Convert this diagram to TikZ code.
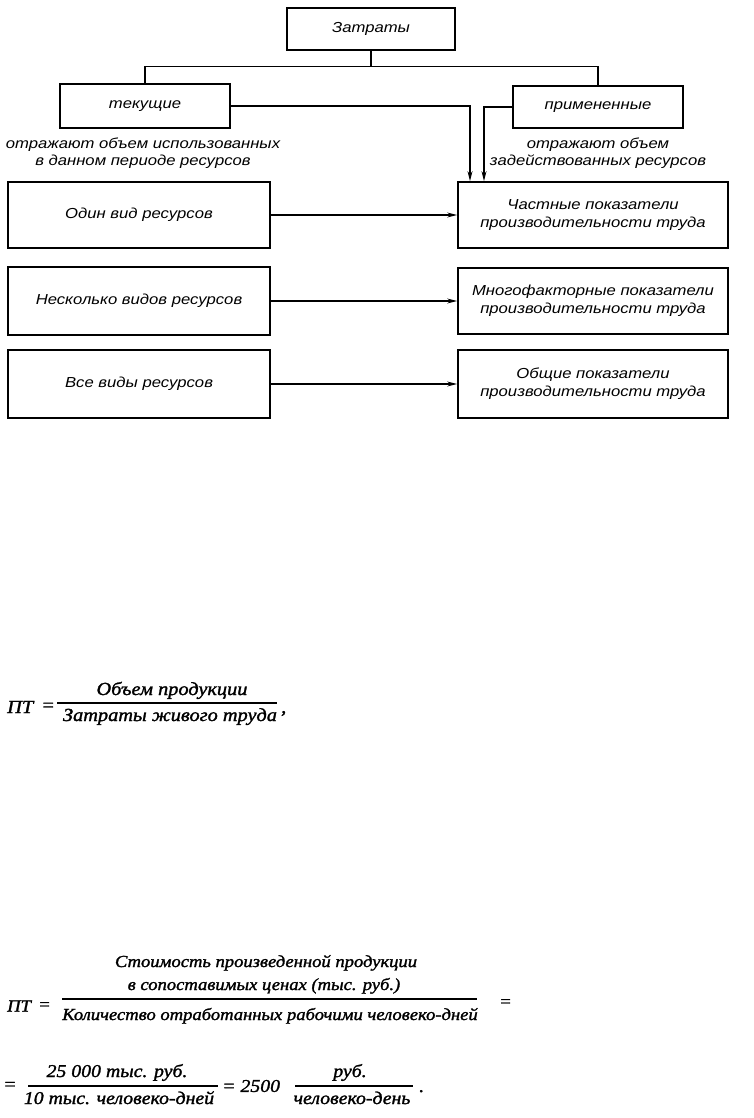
\documentclass[tikz,border=0pt]{standalone}
\usepackage{fontspec}
\setmainfont{Liberation Serif}
\newfontfamily\sansf[FakeStretch=1.15]{Liberation Sans}
\newfontfamily\fmlf[FakeStretch=1.1,FakeBold=1.5]{Liberation Serif}
\usetikzlibrary{arrows.meta}
\begin{document}
\begin{tikzpicture}[x=1pt,y=-1pt,
  box/.style={draw, line width=1.7pt, inner sep=0pt, font=\sansf\itshape\fontsize{14.5}{18}\selectfont, align=center},
  captxt/.style={font=\sansf\itshape\fontsize{14.5}{17}\selectfont, align=center, inner sep=0pt},
  conn/.style={line width=1.2pt},
  arr/.style={conn, -{Stealth[length=10pt,width=5pt]}},
  fa/.style={font=\fmlf\itshape\fontsize{18.5}{22}\selectfont, inner sep=0pt},
  fb/.style={font=\fmlf\itshape\fontsize{16.9}{20}\selectfont, inner sep=0pt},
  fc/.style={font=\fmlf\itshape\fontsize{18}{22}\selectfont, inner sep=0pt},
  bar/.style={line width=1.2pt}]
\useasboundingbox (0,0) rectangle (754,1118);
\fill[white] (0,0) rectangle (754,1118);

% top tree
\node[box, minimum width=168pt, minimum height=42pt] (zat) at (371,29) {Затраты};
\node[box, minimum width=170pt, minimum height=44pt] (tek) at (145,106) {текущие};
\node[box, minimum width=170pt, minimum height=42pt] (prim) at (598,107) {примененные};
\node[captxt] (captek) at (143,153) {отражают объем использованных\\в данном периоде ресурсов};
\node[captxt] (capprim) at (598,153) {отражают объем\\задействованных ресурсов};

\draw[conn] (zat.south) -- ++(0,16) coordinate (j);
\draw[conn] (j) -| (tek.north);
\draw[conn] (j) -| (prim.north);

% rows
\node[box, minimum width=262pt, minimum height=66pt] (l1) at (139,215) {Один вид ресурсов};
\node[box, minimum width=270pt, minimum height=66pt] (r1) at (593,215) {Частные показатели\\производительности труда};
\node[box, minimum width=262pt, minimum height=68pt] (l2) at (139,301) {Несколько видов ресурсов};
\node[box, minimum width=270pt, minimum height=66pt] (r2) at (593,301) {Многофакторные показатели\\производительности труда};
\node[box, minimum width=262pt, minimum height=68pt] (l3) at (139,384) {Все виды ресурсов};
\node[box, minimum width=270pt, minimum height=68pt] (r3) at (593,384) {Общие показатели\\производительности труда};

\draw[arr] (tek.east) -| ([xshift=-123pt]r1.north);
\draw[arr] (prim.west) -| ([xshift=-109pt]r1.north);
\draw[arr] (l1.east) -- (r1.west);
\draw[arr] (l2.east) -- (r2.west);
\draw[arr] (l3.east) -- (r3.west);

% formula 1
\node[fa, anchor=west] (pt1) at (7,707) {ПТ};
\node[fa, anchor=west] (e1) at (41,707) {=};
\node[fa, anchor=base] (n1) at (172,695) {Объем продукции};
\draw[bar] (57,703) -- (277,703);
\node[fa, anchor=base] (d1) at (170,721) {Затраты живого труда};
\node[fa, anchor=base west] (c1) at (281,713) {,};

% formula 2
\node[fb, anchor=west] (pt2) at (7,1006) {ПТ};
\node[fb, anchor=west] (e2) at (38,1006) {=};
\node[fb, anchor=base] (n2a) at (266,967) {Стоимость произведенной продукции};
\node[fb, anchor=base] (n2b) at (264,990) {в сопоставимых ценах (тыс. руб.)};
\draw[bar] (62,999) -- (477,999);
\node[fb, anchor=base] (d2) at (270,1020) {Количество отработанных рабочими человеко-дней};
\node[fb, anchor=west] (e3) at (499,1003) {=};

% formula 3
\node[fc, anchor=west] (e4) at (3,1086) {=};
\node[fc, anchor=base] (n3) at (117,1077) {25 000 тыс. руб.};
\draw[bar] (28,1086) -- (218,1086);
\node[fc, anchor=base] (d3) at (119,1104) {10 тыс. человеко-дней};
\node[fc, anchor=west] (e5) at (222,1086) {= 2500};
\node[fc, anchor=base] (n4) at (350,1077) {руб.};
\draw[bar] (295,1086) -- (413,1086);
\node[fc, anchor=base] (d4) at (352,1104) {человеко-день};
\node[fc, anchor=base west] (dot) at (419,1092) {.};
\end{tikzpicture}
\end{document}
